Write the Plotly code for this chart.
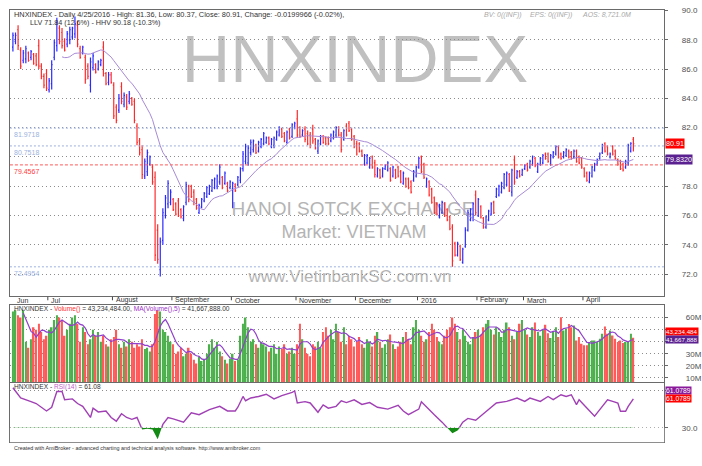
import numpy as np
import pandas as pd
import plotly.graph_objects as go

# ---------------- data ----------------
open_ = [
    87.5, 87.9, 88.7, 87.3, 86.6, 86.7, 87.1, 86.8, 87.0, 86.9,
    87.6, 86.2, 85.5, 85.7, 84.6, 85.0, 86.8, 87.6, 88.8, 88.5,
    87.9, 87.7, 88.0, 88.2, 88.4, 89.0, 87.4, 87.1, 86.8, 86.2,
    84.9, 86.1, 86.3, 86.0, 86.3, 87.5, 85.7, 85.1, 85.6, 84.9,
    83.4, 83.2, 84.8, 83.6, 84.1, 83.8, 84.0, 83.8, 82.1, 81.1,
    80.5, 78.7, 79.0, 79.5, 79.3, 78.6, 75.0, 72.3, 74.3, 76.0,
    76.8,
    76.9, 77.1, 76.8, 77.0, 76.4, 75.8, 76.9, 78.0, 78.0, 77.6,
    77.1, 76.2, 76.6, 77.0, 77.3, 77.5, 77.7, 77.9, 78.0, 78.3,
    78.6, 78.2, 78.2, 77.9, 77.8, 78.1, 78.1, 78.4, 79.2, 79.7,
    79.6, 80.3, 80.5, 80.8, 80.4, 80.7, 80.9, 81.0,
    81.3, 80.7, 80.8, 81.2, 81.5, 81.9, 81.6, 81.0, 81.9, 81.4,
    82.0, 82.6, 82.0, 81.5, 81.9, 81.6, 81.5, 81.9,
    81.2, 80.4, 80.9, 81.4, 81.3,
    81.3,
    81.1, 81.3, 81.5, 82.0, 81.5, 81.2, 82.1, 82.3, 81.9, 81.4, 80.9, 80.9,
    80.4, 79.5, 79.6,
    79.3, 80.0, 79.6, 78.7,
    79.1, 78.7, 79.2, 79.1, 79.2, 78.7, 79.1, 79.3, 79.0, 78.2, 78.5, 78.5,
    78.3, 78.4, 78.7, 79.3, 80.0, 79.5,
    78.0, 78.3, 77.8, 77.2, 76.8, 75.9, 76.2, 76.8, 76.4, 75.9, 75.2, 74.1, 73.3, 73.9,
    72.8, 73.9, 75.0, 75.7,
    75.8, 77.4, 76.0, 76.6,
    75.8,
    75.2, 75.7, 76.1, 76.9, 77.3, 77.4, 77.6,
    77.9, 78.1, 78.8, 77.6, 79.8, 78.6, 79.0, 78.8,
    79.2, 79.5, 79.3, 79.5, 79.9,
    79.0, 79.5, 79.6, 80.2, 80.2, 79.5, 80.0, 80.2, 80.7, 80.2, 80.0, 80.1,
    80.4, 80.3, 80.0, 80.4, 80.0, 79.9,
    79.2, 78.9, 78.3, 78.7, 79.1, 79.5, 79.9, 80.3, 80.9, 80.7,
    80.0, 80.7, 80.4, 79.8, 79.7, 79.5, 79.3, 79.6, 80.4, 81.2,
]
high = [
    88.5, 88.5, 89.0, 87.5, 87.3, 87.6, 87.2, 87.3, 87.1, 87.1,
    88.0, 86.4, 85.7, 86.0, 85.4, 86.6, 88.0, 89.5, 89.0, 88.8,
    88.1, 88.6, 88.9, 88.9, 89.6, 89.3, 87.6, 87.6, 87.0, 86.4,
    86.8, 87.1, 86.4, 86.6, 86.7, 87.9, 85.8, 85.8, 85.8, 85.1,
    83.6, 84.3, 85.1, 84.4, 84.3, 84.5, 84.1, 84.0, 82.3, 81.3,
    80.8, 79.9, 80.5, 80.1, 79.5, 79.0, 75.4, 74.5, 76.5, 77.4,
    78.4,
    77.8, 77.2, 76.9, 77.2, 76.5, 76.7, 78.3, 78.1, 78.1, 77.8,
    77.2, 76.8, 77.2, 77.6, 78.0, 78.1, 78.5, 78.6, 78.8, 79.5,
    78.7, 79.0, 78.3, 78.4, 78.3, 78.2, 78.7, 79.3, 80.4, 80.9,
    80.8, 81.2, 81.2, 80.9, 81.1, 81.3, 81.7, 81.4,
    81.4, 81.3, 81.4, 81.8, 82.1, 82.0, 81.7, 81.8, 82.0, 82.3,
    82.4, 83.2, 82.1, 81.9, 82.1, 81.8, 81.7, 82.2,
    81.3, 81.2, 81.5, 81.5, 81.4,
    81.4,
    81.6, 81.8, 82.1, 82.1, 81.7, 81.9, 82.3, 82.45, 82.0, 81.5, 81.1, 81.0,
    80.5, 80.2, 80.2,
    80.0, 80.1, 79.8, 79.3,
    79.2, 79.3, 79.5, 79.7, 79.3, 79.4, 79.2, 79.4, 79.1, 79.0, 78.6, 78.6,
    78.4, 79.1, 79.4, 80.0, 80.1, 79.6,
    78.6, 78.4, 77.9, 77.3, 76.9, 76.8, 77.0, 76.9, 76.5, 76.0, 75.4, 74.2, 74.2, 74.0,
    73.8, 75.2, 76.4, 76.5,
    76.9, 77.7, 77.2, 76.7,
    75.9,
    76.0, 76.4, 76.9, 77.0, 77.9, 78.1, 78.3,
    78.9, 79.0, 78.9, 79.2, 80.1, 79.1, 79.1, 79.2,
    79.5, 79.6, 79.8, 80.1, 80.0,
    79.6, 80.0, 80.2, 80.3, 80.3, 80.2, 80.4, 80.8, 80.8, 80.3, 80.4, 80.6,
    80.5, 80.4, 80.5, 80.5, 80.1, 80.0,
    79.3, 79.0, 79.0, 79.4, 79.6, 79.9, 80.3, 80.9, 81.0, 80.8,
    80.3, 80.8, 80.5, 79.9, 79.8, 79.6, 79.8, 80.9, 81.0, 81.36,
]
low = [
    87.2, 87.7, 87.3, 86.0, 86.4, 86.4, 86.5, 86.6, 86.3, 86.2,
    86.0, 85.3, 84.7, 84.5, 84.4, 84.6, 86.6, 87.2, 87.7, 87.4,
    87.2, 87.5, 87.7, 88.0, 88.1, 87.5, 86.7, 87.0, 85.0, 85.3,
    84.4, 85.9, 85.7, 85.9, 86.2, 85.5, 84.9, 84.9, 85.0, 82.6,
    82.3, 83.0, 83.6, 83.4, 83.2, 83.6, 83.5, 82.3, 80.8, 80.1,
    78.5, 78.5, 78.7, 79.4, 78.1, 72.9, 72.7, 71.84, 74.0, 75.8,
    76.5,
    76.7, 76.3, 76.0, 75.9, 75.8, 75.6, 76.7, 76.9, 77.2, 76.7,
    76.4, 76.1, 76.5, 76.9, 77.2, 77.4, 77.6, 77.8, 77.8, 78.1,
    77.8, 78.1, 77.6, 77.8, 76.5, 77.6, 78.0, 78.2, 79.0, 79.5,
    79.4, 80.1, 80.3, 80.2, 80.3, 80.6, 80.8, 80.9,
    80.8, 80.6, 80.6, 81.1, 81.4, 81.3, 81.0, 80.9, 81.2, 81.3,
    81.9, 81.3, 81.3, 81.4, 81.0, 80.8, 80.6, 80.9,
    80.5, 80.2, 80.8, 80.9, 80.8,
    80.8,
    81.0, 81.2, 81.3, 81.4, 80.3, 81.1, 81.4, 81.7, 81.1, 80.6, 80.1, 80.3,
    80.0, 79.4, 79.5,
    79.2, 79.2, 78.6, 78.6,
    78.5, 78.6, 79.1, 79.0, 78.3, 78.6, 78.5, 78.6, 78.2, 78.1, 77.9, 77.8,
    77.5, 78.3, 78.6, 79.2, 78.9, 78.5,
    77.9, 77.3, 76.8, 76.1, 76.0, 75.8, 76.1, 75.9, 75.6, 75.0, 72.5, 73.2, 73.2, 72.9,
    72.7, 73.8, 74.9, 75.6,
    75.6, 76.0, 75.9, 75.8,
    75.1,
    75.1, 75.6, 76.0, 76.1, 77.2, 77.3, 77.5,
    77.8, 78.0, 77.6, 77.3, 78.1, 78.5, 78.6, 78.7,
    79.1, 79.0, 79.2, 79.4, 79.3,
    78.9, 79.4, 79.5, 79.8, 79.6, 79.4, 79.9, 80.1, 79.9, 79.8, 79.9, 80.0,
    79.9, 79.8, 79.9, 79.6, 79.5, 79.2,
    78.6, 78.3, 78.2, 78.6, 79.0, 79.4, 79.8, 80.2, 80.3, 80.1,
    79.9, 80.1, 79.8, 79.4, 79.1, 79.0, 79.2, 79.4, 80.3, 80.37,
]
close = [
    88.3, 88.3, 87.6, 86.2, 87.1, 87.4, 86.6, 87.2, 86.4, 86.3,
    86.2, 85.5, 84.9, 84.7, 85.2, 86.3, 87.8, 89.2, 87.9, 87.6,
    87.3, 88.4, 88.7, 88.8, 89.1, 87.7, 86.8, 87.5, 85.3, 85.5,
    86.5, 86.9, 85.8, 86.5, 86.6, 85.7, 85.0, 85.6, 85.1, 82.8,
    82.5, 84.0, 83.8, 84.2, 83.4, 84.3, 83.6, 82.5, 81.0, 80.3,
    78.8, 79.7, 80.3, 80.0, 78.3, 73.3, 73.0, 74.2, 76.2, 77.2,
    78.2,
    77.6, 76.4, 76.1, 76.0, 75.9, 76.6, 78.1, 77.1, 77.3, 76.9,
    76.5, 76.7, 77.1, 77.5, 77.9, 78.0, 78.4, 78.5, 78.7, 79.3,
    77.9, 78.9, 77.7, 78.3, 78.2, 77.7, 78.6, 79.2, 80.2, 80.7,
    80.6, 81.0, 81.1, 80.3, 81.0, 81.2, 81.6, 81.3,
    80.9, 81.2, 81.3, 81.7, 82.0, 81.4, 81.1, 81.7, 81.3, 82.2,
    82.3, 81.5, 81.4, 81.8, 81.2, 80.9, 80.8, 81.1,
    80.6, 81.1, 81.4, 81.0, 80.9,
    80.9,
    81.5, 81.7, 82.0, 81.5, 80.5, 81.8, 81.5, 81.8, 81.2, 80.7, 80.2, 80.4,
    80.1, 80.1, 80.1,
    79.9, 79.3, 78.8, 79.2,
    78.6, 79.2, 79.4, 79.6, 78.4, 79.3, 78.6, 78.7, 78.3, 78.9, 78.0, 77.9,
    77.6, 79.0, 79.3, 79.9, 79.0, 78.6,
    78.5, 77.4, 76.9, 76.2, 76.1, 76.7, 76.9, 76.0, 75.7, 75.1, 72.9, 73.3, 74.1, 73.0,
    73.7, 75.0, 76.2, 76.4,
    76.8, 76.2, 77.1, 75.9,
    75.2,
    75.9, 76.3, 76.8, 76.2, 77.8, 78.0, 78.2,
    78.8, 78.9, 77.7, 79.1, 78.3, 79.0, 78.7, 79.1,
    79.4, 79.1, 79.7, 80.0, 79.4,
    79.5, 79.9, 80.1, 79.9, 79.7, 80.1, 80.3, 80.7, 80.0, 79.9, 80.3, 80.5,
    80.0, 79.9, 80.4, 79.7, 79.6, 79.3,
    78.7, 78.4, 78.9, 79.3, 79.5, 79.8, 80.2, 80.8, 80.4, 80.2,
    80.2, 80.2, 79.9, 79.5, 79.2, 79.1, 79.7, 80.8, 80.93, 80.91,
]
# volume in millions of shares
volume_m = [
    65, 66, 62, 60, 66, 40, 35, 42, 52, 50,
    55, 48, 42, 45, 50, 52, 58, 62, 60, 58,
    45, 50, 55, 60, 62, 55, 40, 52, 48, 38,
    42, 50, 45, 48, 40, 45, 38, 36, 42, 44,
    50, 38, 35, 40, 36, 42, 40, 35, 38, 36,
    42, 34, 35, 32, 38, 63, 66, 65, 50, 48,
    45, 40, 38, 30, 32, 35, 28, 30, 35, 30,
    25, 22, 28, 24, 26, 30, 38, 42, 35, 40,
    32, 28, 25, 22, 26, 30, 24, 25, 45, 55,
    60, 52, 40, 42, 38, 35, 40, 38, 36, 32,
    35, 38, 30, 36, 34, 38, 30, 32, 35, 30,
    38, 55, 42, 35, 30, 28, 38, 36, 40, 35,
    48, 52, 45, 50, 42, 55, 48, 40, 52,
    38, 45, 42, 36, 40, 44, 38, 35, 42, 40,
    36, 45, 48, 40, 35, 38, 42, 46, 38, 34,
    36, 40, 44, 48, 42, 38, 52, 58, 50, 45,
    40, 42, 48, 55, 50, 44, 40, 38, 45, 50,
    52, 60, 55, 48, 42, 50, 45, 40, 38, 44,
    48, 50, 46, 52,
    55, 58, 50, 46, 52, 48, 44, 50, 56, 52,
    45, 42, 48, 55, 58, 50, 46, 44, 52, 56,
    48, 45, 50, 54, 47, 43, 49, 52,
    43.9, 60.2, 49.3, 50.7, 54.8, 52.1, 53.4, 41.1, 43.9, 38.4,
    37.0, 37.0, 39.8, 41.1, 41.1, 39.8, 42.5, 46.6, 52.6, 46.6,
    49.3, 45.2, 42.5, 39.8, 41.1, 38.904956, 39.8, 39.8, 46.6, 43.234484,
]
# RSI(14) line: bar number and value
rsi_bar = [0, 3, 7, 9, 13, 15, 17, 19, 20, 23, 25, 27, 30, 31, 33, 36, 38, 40,
           42, 44, 46, 48, 50, 52, 54, 56, 58, 60, 62, 65, 66, 69, 72, 76, 80,
           83, 86, 87, 89, 90, 92, 95, 98, 101, 104, 108, 109, 110, 113, 115,
           118, 120, 122, 125, 127, 129, 132, 135, 138, 141, 145, 149, 151, 153,
           157, 158, 160, 163, 166, 168, 170, 172, 174, 176, 179, 182, 184, 187,
           191, 195, 198, 200, 204, 207, 209, 212, 214, 216, 218, 219, 222, 225,
           227, 230, 232, 234, 235, 237, 238, 240]
rsi_val = [73, 62, 58, 56, 48, 52, 69, 69, 60, 61, 56, 53, 41, 51, 47, 48, 41, 37,
           45, 41, 39, 41, 28, 29, 28, 17.5, 33.5, 41, 39.5, 37, 36, 46, 44, 49.5,
           53, 48, 48, 52, 63.6, 59, 62, 63.6, 66, 61, 64.5, 68, 69.5, 56.6, 58,
           56.6, 46.6, 54.5, 51, 53, 59, 57, 60, 55, 57, 52, 50, 54, 48, 44, 50,
           58, 52, 44, 36, 30, 24, 27, 36, 40, 38, 45, 50, 56.6, 58.3, 61.9, 58.3,
           61.9, 58.3, 63.6, 60.1, 65.4, 63.6, 65.4, 54.8, 60.1, 51.3, 42.3, 49.5,
           60.1, 58.3, 56.6, 47.7, 47.7, 53, 61.0789]

month_labels = ["Jul", "August", "September", "October", "November",
                "December", "2016", "February", "March", "April"]
month_start_bar = [14, 39, 62, 85, 110, 133, 157, 180, 198, 221]
price_ticks = [72, 74, 76, 78, 80, 82, 84, 86, 88, 90]
price_ticklabels = ["72.0", "74.0", "76.0", "78.0", "", "82.0", "84.0", "86.0", "88.0", "90.0"]
vol_ticks = [10, 20, 30, 40, 50, 60]
vol_ticklabels = ["10M", "20M", "30M", "", "", "60M"]   # 40M/50M sit under the value boxes
rsi_ticks = [30, 70]
rsi_ticklabels = ["30.0", ""]                           # 70.0 sits under the value box
level_blue = [81.9718, 80.7518, 72.4954]
level_red = [79.4567]

MA_PRICE, MA_VOL = 20, 5

# ---------------- derived indicators ----------------
N = len(close)
idx = np.arange(N)
ma_price = pd.Series(close).rolling(MA_PRICE).mean()
ma_vol = pd.Series(volume_m).rolling(MA_VOL).mean()
rsi_last = rsi_val[-1]

W, H = 702, 466
def px(x): return x / W
def py(y): return 1 - y / H

FONT = "Liberation Sans, Arial, sans-serif"
AXC = "#6a6a6a"

fig = go.Figure()

# price panel
fig.add_trace(go.Ohlc(
    x=idx, open=open_, high=high, low=low, close=close,
    increasing=dict(line=dict(color="#2a2aff", width=1.2)),
    decreasing=dict(line=dict(color="#ff2a2a", width=1.2)),
    tickwidth=0.35, xaxis="x", yaxis="y", showlegend=False, hoverinfo="skip"))
fig.add_trace(go.Scatter(x=idx, y=ma_price, mode="lines",
    line=dict(color="#a78ad6", width=1), xaxis="x", yaxis="y",
    showlegend=False, hoverinfo="skip"))

# volume panel
vcol = ["#4cb04c" if c >= o else "#ff5a5a" for o, c in zip(open_, close)]
fig.add_trace(go.Bar(x=idx, y=volume_m, marker=dict(color=vcol, line=dict(width=0)),
    width=0.6, xaxis="x2", yaxis="y2", showlegend=False, hoverinfo="skip"))
fig.add_trace(go.Scatter(x=idx, y=ma_vol, mode="lines",
    line=dict(color="#9040cc", width=1.2), xaxis="x2", yaxis="y2",
    showlegend=False, hoverinfo="skip"))

# rsi panel: green area below 30 (drawn in a sub-area clipped at the 30 level)
fig.add_trace(go.Scatter(x=[rsi_bar[0], rsi_bar[-1]], y=[30, 30], mode="lines",
    line=dict(width=0), xaxis="x4", yaxis="y4", showlegend=False, hoverinfo="skip"))
fig.add_trace(go.Scatter(x=rsi_bar, y=rsi_val, mode="lines", line=dict(width=0),
    fill="tonexty", fillcolor="#138a13", xaxis="x4", yaxis="y4",
    showlegend=False, hoverinfo="skip"))
fig.add_trace(go.Scatter(x=rsi_bar, y=rsi_val, mode="lines",
    line=dict(color="#a040b4", width=1.4), xaxis="x3", yaxis="y3",
    showlegend=False, hoverinfo="skip"))

xr = [-1.15, N - 1 + 31 / 2.6]
xcommon = dict(domain=[px(10), px(668)], range=xr, showticklabels=False,
               showgrid=False, zeroline=False, showline=True, mirror=True,
               linecolor=AXC, linewidth=1, ticks="")
ycommon = dict(side="right", showline=True, mirror=True, linecolor=AXC,
               linewidth=1, ticks="outside", ticklen=3, tickcolor=AXC,
               zeroline=False, showgrid=True, gridcolor="#8c8c8c",
               griddash="1px,3px", gridwidth=1,
               tickfont=dict(family=FONT, size=8, color="#505050"))

RSI_RANGE = [70 - (443 - 390.7) / 0.94, 70 - (383 - 390.7) / 0.94]
fig.update_layout(
    width=W, height=H, margin=dict(l=0, r=0, t=0, b=0),
    paper_bgcolor="white", plot_bgcolor="white", hovermode=False,
    xaxis=dict(**xcommon, anchor="y", rangeslider=dict(visible=False)),
    xaxis2=dict(**xcommon, anchor="y2", matches="x"),
    xaxis3=dict(**xcommon, anchor="y3", matches="x"),
    xaxis4=dict(domain=[px(10), px(668)], anchor="y4", matches="x", visible=False),
    yaxis=dict(**ycommon, anchor="x", domain=[py(295), py(6)],
               range=[82 - 170 / 14.8, 82 + 119 / 14.8],
               tickvals=price_ticks, ticktext=price_ticklabels,
               ticklabelstandoff=12),
    yaxis2=dict(**ycommon, anchor="x2", domain=[py(382), py(304)],
                range=[10 + (378 - 382) / 1.22, 10 + (378 - 304) / 1.22],
                tickvals=vol_ticks, ticktext=vol_ticklabels,
                ticklabelstandoff=16),
    yaxis3=dict(**ycommon, anchor="x3", domain=[py(443), py(383)],
                range=RSI_RANGE, tickvals=rsi_ticks, ticktext=rsi_ticklabels,
                ticklabelstandoff=12),
    yaxis4=dict(anchor="x4", domain=[py(443), py(390.7 + 40 * 0.94)],
                range=[RSI_RANGE[0], 30], visible=False),
)

shapes = []
def watermark(xc, yc, w, h, s, size, color):
    shapes.append(dict(type="rect", xref="paper", yref="paper", layer="below",
                       x0=px(xc - w / 2), x1=px(xc + w / 2), y0=py(yc + h / 2), y1=py(yc - h / 2),
                       line=dict(width=0), fillcolor="rgba(0,0,0,0)",
                       label=dict(text=s, textposition="middle center",
                                  font=dict(family=FONT, size=size, color=color))))
watermark(357, 49, 400, 70, "HNXINDEX", 67, "#c0c0c0")
watermark(355, 205, 300, 24, "HANOI SOTCK EXCHANGE", 19, "#b4b4b4")
watermark(356, 228, 200, 24, "Market: VIETNAM", 18, "#b4b4b4")
watermark(352, 273, 260, 22, "www.VietinbankSC.com.vn", 17, "#b4b4b4")

for lv in level_blue:
    shapes.append(dict(type="line", xref="paper", yref="y", x0=px(10), x1=px(668),
                       y0=lv, y1=lv, line=dict(color="#9db2de", width=1, dash="2px,2px")))
for lv in level_red:
    shapes.append(dict(type="line", xref="paper", yref="y", x0=px(10), x1=px(668),
                       y0=lv, y1=lv, line=dict(color="#ff5a5a", width=1, dash="3px,2px")))
for m in month_start_bar:
    shapes.append(dict(type="line", xref="x", yref="paper", x0=m - 0.5, x1=m - 0.5,
                       y0=py(296), y1=py(299.5), line=dict(color="#444", width=1)))
fig.update_layout(shapes=shapes)

ann = []
def text(x, y, s, size=7, color="#333", xanchor="left", yanchor="middle", **kw):
    ann.append(dict(x=x, y=y, xref="paper", yref="paper", text=s, showarrow=False,
                    xanchor=xanchor, yanchor=yanchor,
                    font=dict(family=FONT, size=size, color=color), **kw))

# titles
text(px(12), py(10.5), "HNXINDEX - Daily 4/25/2016 - High: 81.36, Low: 80.37, Close: 80.91, "
     "Change: -0.0199966 (-0.02%),", size=7.4)
text(px(28), py(18.5), "LLV 71.84 (12.6%) - HHV 90.18 (-10.3%)", size=7.2)
text(px(485), py(11), "<i>BV: 0((INF))</i>", size=7, color="#a8a8a8")
text(px(531), py(11), "<i>EPS: 0((INF))</i>", size=7, color="#a8a8a8")
text(px(583), py(11), "<i>AOS: 8,721.0M</i>", size=7, color="#a8a8a8")

# level labels
for lv in level_blue:
    ann.append(dict(x=px(12), y=lv, xref="paper", yref="y", text=f"{lv:.4f}",
                    showarrow=False, xanchor="left", yanchor="top", yshift=-1,
                    font=dict(family=FONT, size=7, color="#9db2de")))
for lv in level_red:
    ann.append(dict(x=px(12), y=lv, xref="paper", yref="y", text=f"{lv:.4f}",
                    showarrow=False, xanchor="left", yanchor="top", yshift=-1,
                    font=dict(family=FONT, size=7, color="#ff4040")))

# value boxes on right axis
def box(y, yref, s, bg, yshift=0, size=7.2):
    ann.append(dict(x=px(669), y=y, xref="paper", yref=yref, text=s, showarrow=False,
                    xanchor="left", yanchor="middle", bgcolor=bg, borderpad=0,
                    yshift=yshift, font=dict(family=FONT, size=size, color="white")))
box(close[-1], "y", f"{close[-1]:.2f}", "#ff0000")
box(float(ma_price.iloc[-1]), "y", f"{ma_price.iloc[-1]:.4f}", "#5a2090")
box(volume_m[-1], "y2", f"{volume_m[-1]*1e6:,.0f}", "#ff0000", yshift=6, size=6.2)
box(float(ma_vol.iloc[-1]), "y2", f"{round(ma_vol.iloc[-1]*1e6):,.0f}", "#5a2090", size=6.2)
box(rsi_last, "y3", f"{rsi_last:.4f}", "#8a1a9a", yshift=8, size=6.8)
box(rsi_last, "y3", f"{rsi_last:.4f}", "#ff0000", size=6.8)

# month labels
text(px(15), py(299.5), "Jun", size=7)
for m, lab in zip(month_start_bar, month_labels):
    ann.append(dict(x=m, y=py(299.5), xref="x", yref="paper", text=lab, showarrow=False,
                    xanchor="left", yanchor="middle",
                    font=dict(family=FONT, size=7, color="#333")))

# panel titles
text(px(12), py(308.5),
     "HNXINDEX - <span style='color:#ff3030'>Volume()</span> = 43,234,484.00, "
     "<span style='color:#9a30c8'>MA(Volume(),5)</span> = 41,667,888.00", size=6.6)
text(px(12), py(387.5),
     f"HNXINDEX - <span style='color:#c060c8'>RSI(14)</span> = {rsi_last:.2f}", size=6.6)
text(px(12), py(448.5), "Created with AmiBroker - advanced charting and technical analysis "
     "software. http://www.amibroker.com", size=5.4)

fig.update_layout(annotations=ann)
fig.write_html("out.html")
